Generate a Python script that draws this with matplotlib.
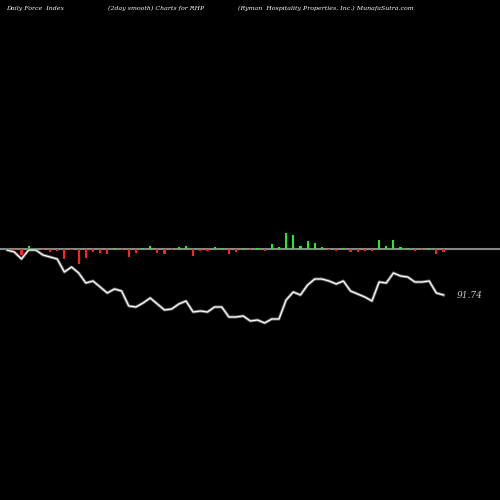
import matplotlib
matplotlib.use("Agg")
import matplotlib.pyplot as plt
import numpy as np

# force index bars (pixel-ish units, positive = green)
force = [1, -1, -6, 3, 1, -1, -3, -2, -10, -1, -15, -9, -3, -4, -5, 1, -1, -8, -4, 1,
         3, -4, -5, -1, 2, 3, -7, -2, -2, 2, 1, -5, -3, 1, -1,
         1, -2, 5, 2, 16, 14, 3, 8, 6, 2, -1, -2, 1, -3, -3, -2, -2, 9, 3, 9, 2, 1,
         -2, -1, 1, -5, -3]
# smoothed line (depth below zero line)
smooth = [250, 252, 259, 250, 250, 255, 257, 259, 272, 267, 273, 283, 281, 287, 293,
          289, 291, 306, 307, 303, 298, 304, 310, 309, 304, 301, 312, 311, 312, 307,
          307, 317, 317, 316, 321,
          320, 323, 319, 319, 300, 292, 295, 285, 279, 279, 281, 284, 281, 291, 294,
          297, 301, 282, 283, 273, 276, 277, 282, 282, 281, 293, 295]
last_label = "91.74"

n = len(force)
idx = np.arange(n)
fig = plt.figure(figsize=(5, 5), dpi=100, facecolor="black")
ax = fig.add_axes([0, 0, 1, 1], facecolor="black")
ax.set_xlim(-1.0, 68.9)
ax.set_ylim(-251, 249)
ax.axis("off")

ax.axhline(0, color="#888888", lw=1.5, zorder=1)
vals = np.array(force)
cols = np.where(vals >= 0, "#22ee22", "#ff2222")
ax.bar(idx, vals, width=0.3, color=cols, zorder=2)
y = -(np.array(smooth) - 249)
ax.plot(idx, y, color="#666666", lw=2.2, zorder=3)
ax.plot(idx, y, color="white", lw=0.9, zorder=4)
ax.text(n + 0.8, y[-1], last_label, color="#cccccc", fontsize=6.5,
        style="italic", family="DejaVu Serif", va="center")

for x, s in [(0.012, "Daily Force  Index"), (0.215, "(2day smooth) Charts for RHP"),
             (0.475, "(Ryman  Hospitality Properties, Inc.) MunafaSutra.com")]:
    fig.text(x, 0.988, s, color="white", fontsize=4.5, style="italic",
             family="DejaVu Serif", va="top")

fig.savefig("out.png", facecolor="black")
